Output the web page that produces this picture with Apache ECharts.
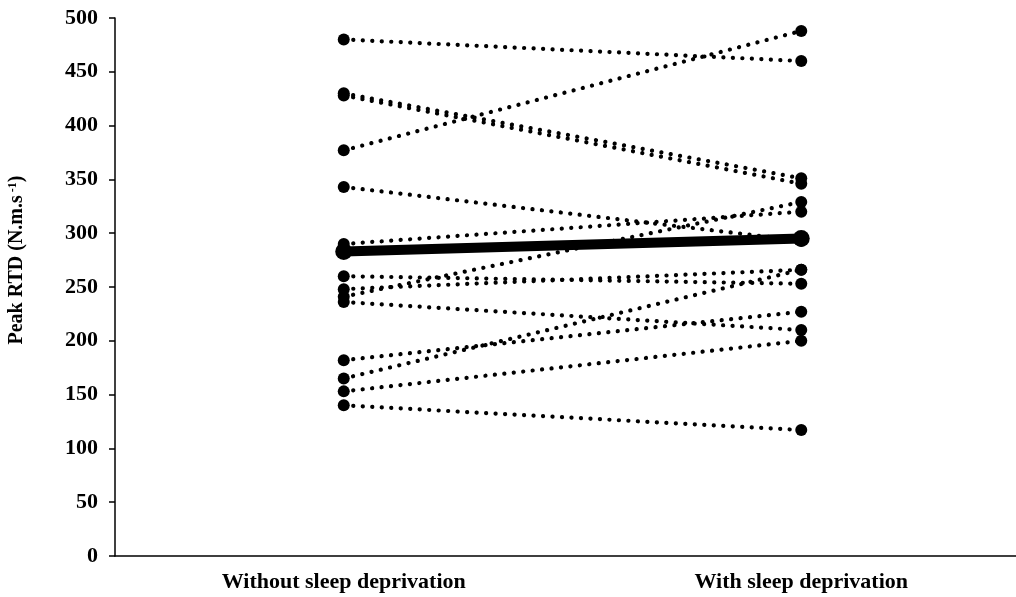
<!DOCTYPE html>
<html>
<head>
<meta charset="utf-8">
<script src="https://cdn.jsdelivr.net/npm/echarts@6/dist/echarts.min.js"></script>
<style>html,body{margin:0;padding:0;background:#fff}#c{width:1016px;height:597px}</style>
</head>
<body>
<div id="c"></div>
<script>
var categories = ['Without sleep deprivation', 'With sleep deprivation'];
var withoutSD = [480, 430, 428, 377, 343, 290, 260, 248, 241, 236, 182, 165, 153, 140];
var withSD    = [460, 351, 346, 488, 293, 320, 253, 266, 329, 210, 227, 266, 200, 117];
var meanValues = [283, 295];
var yTicks = [0, 50, 100, 150, 200, 250, 300, 350, 400, 450, 500];

var FONT = '"Liberation Serif", "Times New Roman", serif';
var series = withoutSD.map(function (v, i) {
  return {
    type: 'line',
    data: [v, withSD[i]],
    symbol: 'circle',
    symbolSize: 12,
    itemStyle: { color: '#000' },
    lineStyle: { color: '#000', width: 4.2, type: [0.1, 9.4], cap: 'round' },
    z: 2,
    silent: true
  };
});
series.push({
  type: 'line',
  data: meanValues,
  symbol: 'circle',
  symbolSize: 17,
  itemStyle: { color: '#000' },
  lineStyle: { color: '#000', width: 10 },
  z: 3,
  silent: true
});

var chart = echarts.init(document.getElementById('c'));
chart.setOption({
  animation: false,
  backgroundColor: '#fff',
  grid: { left: 115, top: 18, bottom: 41, right: -14, outerBoundsMode: 'none', containLabel: false },
  xAxis: {
    type: 'category',
    data: categories,
    boundaryGap: true,
    axisLine: { lineStyle: { color: '#000', width: 1.5 } },
    axisTick: { show: false },
    axisLabel: { color: '#000', fontFamily: FONT, fontWeight: 'bold', fontSize: 22, margin: 15 }
  },
  yAxis: {
    type: 'value',
    min: 0, max: 500, interval: 50,
    splitLine: { show: false },
    axisLine: { show: true, lineStyle: { color: '#000', width: 1.5 } },
    axisTick: { show: true, length: 6, lineStyle: { color: '#000', width: 1.5 } },
    axisLabel: {
      color: '#000', fontFamily: FONT, fontWeight: 'bold', fontSize: 22, margin: 17,
      formatter: function (v) { return yTicks.indexOf(v) >= 0 ? String(v) : ''; }
    },
    name: '{a|Peak RTD (N.m.s}{b|-1}{a|)}',
    nameLocation: 'middle',
    nameGap: 88,
    nameRotate: 90,
    nameTextStyle: {
      padding: [0, 0, 0, 54],
      rich: {
        a: { fontFamily: FONT, fontWeight: 'bold', fontSize: 20, color: '#000' },
        b: { fontFamily: FONT, fontWeight: 'bold', fontSize: 12, color: '#000', verticalAlign: 'top', padding: [0, 0, 8, 3] }
      }
    }
  },
  series: series
});
</script>
</body>
</html>
